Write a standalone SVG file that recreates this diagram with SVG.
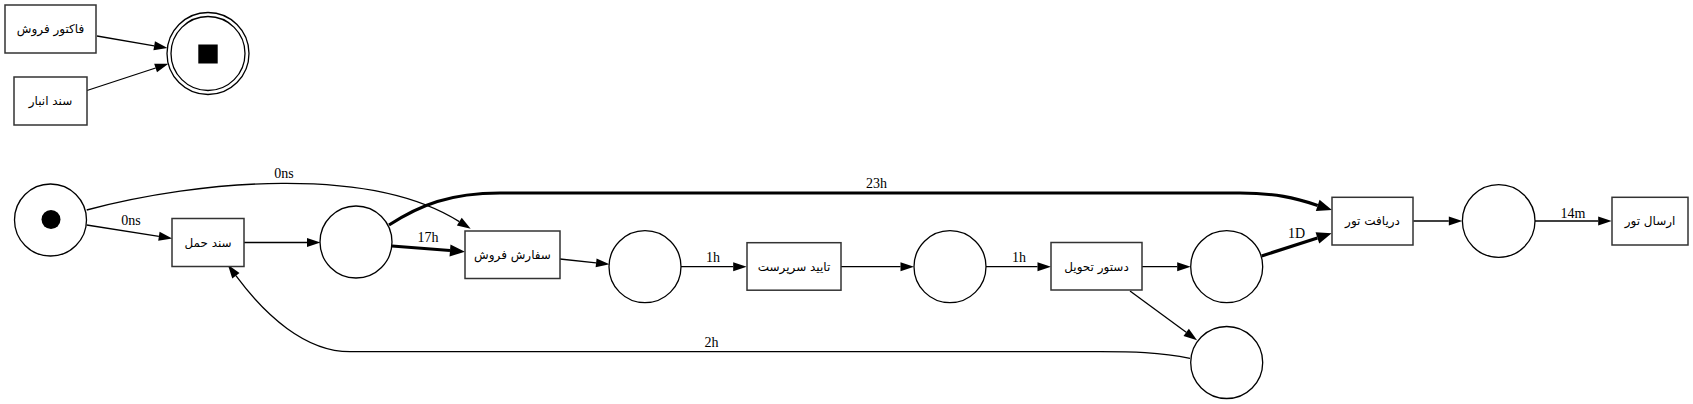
<svg xmlns="http://www.w3.org/2000/svg" width="1693" height="404" viewBox="0 0 1693 404">
<style>
.box{fill:#fff;stroke:#333;stroke-width:1.5}
.pl{fill:#fff;stroke:#000;stroke-width:1.3}
.e{fill:none;stroke:#000;stroke-width:1.3}
.t{fill:none;stroke:#000;stroke-width:3.2}
.n{font-family:"DejaVu Sans","Noto Sans",sans-serif;font-size:12px;text-anchor:middle;fill:#000}
.l{font-family:"Liberation Serif",serif;font-size:14px;text-anchor:middle;fill:#000}
</style>
<defs>
<marker id="a" markerUnits="userSpaceOnUse" viewBox="0 -5 14 10" refX="0" refY="0" markerWidth="14" markerHeight="10" orient="auto" overflow="visible"><path d="M0,-4.5 L13.5,0 L0,4.5 z" fill="#000"/></marker>
<marker id="b" markerUnits="userSpaceOnUse" viewBox="0 -6 16 12" refX="0" refY="0" markerWidth="16" markerHeight="12" orient="auto" overflow="visible"><path d="M0,-6 L15,0 L0,6 z" fill="#000"/></marker>
</defs>
<g id="edges">
<path class="e" d="M97,36 L154.2,45.8" marker-end="url(#a)"/>
<path class="e" d="M87,90.5 L155.6,68" marker-end="url(#a)"/>
<path class="e" d="M86.7,225 L158.9,236.3" marker-end="url(#a)"/>
<path class="e" d="M86.7,210 C200,180 370,165 459.3,221.6" marker-end="url(#a)"/>
<path class="e" d="M244,242.5 L307,242.5" marker-end="url(#a)"/>
<path class="t" d="M392,246 L450,250.5" marker-end="url(#b)"/>
<path class="t" d="M389,225 C420,205 450,193 500,193 L1240,193 C1275,193 1295,198 1317.7,205.4" marker-end="url(#b)"/>
<path class="e" d="M560,259 L596.1,262.9" marker-end="url(#a)"/>
<path class="e" d="M681,266.7 L733.2,266.7" marker-end="url(#a)"/>
<path class="e" d="M841,266.7 L900.5,266.7" marker-end="url(#a)"/>
<path class="e" d="M986,266.7 L1037.5,266.7" marker-end="url(#a)"/>
<path class="e" d="M1141.7,266.7 L1177.2,266.7" marker-end="url(#a)"/>
<path class="e" d="M1130,291 L1186.2,332.3" marker-end="url(#a)"/>
<path class="t" d="M1261.7,256 L1317.4,237.9" marker-end="url(#b)"/>
<path class="e" d="M1413.3,221 L1448.8,221" marker-end="url(#a)"/>
<path class="e" d="M1535,221 L1598.2,221" marker-end="url(#a)"/>
<path class="e" d="M1190,358.3 C1160,352 1130,351.7 1100,351.7 L350,351.7 C305,351.7 265,315 235.9,275.7" marker-end="url(#a)"/>
<text class="l" x="284" y="178">0ns</text>
<text class="l" x="131" y="225">0ns</text>
<text class="l" x="428" y="242">17h</text>
<text class="l" x="876.5" y="188">23h</text>
<text class="l" x="713" y="262">1h</text>
<text class="l" x="1019" y="262">1h</text>
<text class="l" x="1296.5" y="237.5">1D</text>
<text class="l" x="1573" y="218">14m</text>
<text class="l" x="711.5" y="347">2h</text>
</g>
<g id="end">
<circle class="pl" cx="208" cy="53.5" r="41"/>
<circle class="pl" cx="208" cy="53.5" r="37"/>
<rect x="198.3" y="44.5" width="19.4" height="19" fill="#000"/>
</g>
<g id="factor"><rect class="box" x="5" y="5" width="91" height="48"/><text class="n" x="50.5" y="33">فاکتور فروش</text></g>
<g id="anbar"><rect class="box" x="14" y="77" width="73" height="48"/><text class="n" x="50.5" y="105">سند انبار</text></g>
<g id="start"><circle class="pl" cx="50.5" cy="220" r="36"/><circle cx="51" cy="219.5" r="9.5" fill="#000"/></g>
<g id="haml"><rect class="box" x="172" y="218.5" width="72" height="48"/><text class="n" x="208" y="246.5">سند حمل</text></g>
<g id="p2"><circle class="pl" cx="356" cy="242" r="36"/></g>
<g id="sefaresh"><rect class="box" x="465" y="231" width="95" height="47.5"/><text class="n" x="512.5" y="259">سفارش فروش</text></g>
<g id="p3"><circle class="pl" cx="645" cy="266.7" r="36"/></g>
<g id="taeed"><rect class="box" x="747" y="242.7" width="94" height="47.5"/><text class="n" x="794" y="270.5">تایید سرپرست</text></g>
<g id="p4"><circle class="pl" cx="950" cy="266.7" r="36"/></g>
<g id="dastoor"><rect class="box" x="1051" y="242.5" width="91" height="47.5"/><text class="n" x="1096.5" y="270.5">دستور تحویل</text></g>
<g id="p5"><circle class="pl" cx="1226.7" cy="266.7" r="36"/></g>
<g id="p6"><circle class="pl" cx="1226.7" cy="362.5" r="36"/></g>
<g id="daryaft"><rect class="box" x="1332" y="197.3" width="81" height="47.7"/><text class="n" x="1372.5" y="225">دریافت تور</text></g>
<g id="p7"><circle class="pl" cx="1498.7" cy="221" r="36.3"/></g>
<g id="ersal"><rect class="box" x="1612" y="197.3" width="76" height="47.7"/><text class="n" x="1650" y="225">ارسال تور</text></g>
</svg>
